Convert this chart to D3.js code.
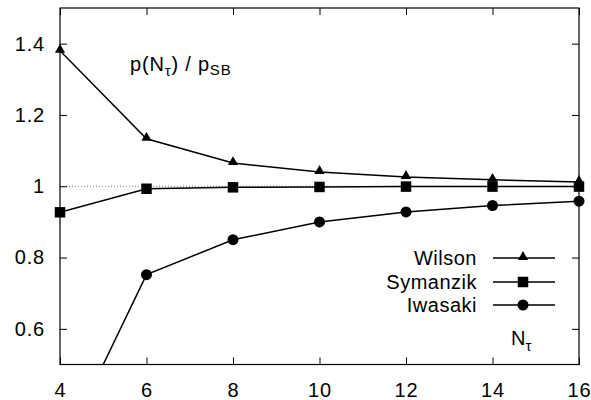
<!DOCTYPE html>
<html>
<head>
<meta charset="utf-8">
<script src="https://cdn.jsdelivr.net/npm/d3@7"></script>
<style>
  body { margin: 0; background: #fff; }
  text { font-family: "Liberation Sans", Arial, sans-serif; fill: #000; }
</style>
</head>
<body>
<svg id="chart" width="591" height="400"></svg>
<script>
// N_tau values on the x axis
const ntau = [4, 6, 8, 10, 12, 14, 16];
// pressure ratio p(N_tau)/p_SB for each action
const wilson   = [1.38, 1.133, 1.065, 1.040, 1.026, 1.018, 1.012];
const symanzik = [0.927, 0.993, 0.997, 0.998, 0.999, 0.999, 0.999];
const iwasaki  = [0.248, 0.752, 0.850, 0.900, 0.928, 0.946, 0.958];
const xTicks = [4, 6, 8, 10, 12, 14, 16];
const yTicks = [0.6, 0.8, 1.0, 1.2, 1.4];
const yTickLabels = ["0.6", "0.8", "1", "1.2", "1.4"];

const svg = d3.select("#chart");
const L = 60, R = 579, T = 8, B = 364.5;
const FONT = '"Liberation Sans", Arial, sans-serif';

const x = d3.scaleLinear().domain([4, 16]).range([L, R]);
const y = d3.scaleLinear().domain([0.5, 1.5]).range([B, T]);

svg.append("defs").append("clipPath").attr("id", "plotclip")
  .append("rect").attr("x", L).attr("y", T).attr("width", R - L).attr("height", B - T);

// reference line at 1
svg.append("line")
  .attr("x1", L).attr("x2", R).attr("y1", y(1)).attr("y2", y(1))
  .attr("stroke", "#777").attr("stroke-width", 1).attr("stroke-dasharray", "1,2");

// frame
svg.append("rect").attr("x", L).attr("y", T).attr("width", R - L).attr("height", B - T)
  .attr("fill", "none").attr("stroke", "#000").attr("stroke-width", 1.2);

const tl = 7;
// ticks point inward and are mirrored on top and right
const bottomAxis = svg.append("g").attr("transform", `translate(0,${B})`)
  .call(d3.axisBottom(x).tickValues(xTicks).tickSize(-tl).tickFormat(d3.format("d")));
const topAxis = svg.append("g").attr("transform", `translate(0,${T})`)
  .call(d3.axisTop(x).tickValues(xTicks).tickSize(-tl).tickFormat(""));
const leftAxis = svg.append("g").attr("transform", `translate(${L},0)`)
  .call(d3.axisLeft(y).tickValues(yTicks).tickSize(-tl).tickPadding(15)
    .tickFormat((d, i) => yTickLabels[i]));
const rightAxis = svg.append("g").attr("transform", `translate(${R},0)`)
  .call(d3.axisRight(y).tickValues(yTicks).tickSize(-tl).tickFormat(""));

[bottomAxis, topAxis, leftAxis, rightAxis].forEach(g => {
  g.select(".domain").remove();
  g.selectAll(".tick line").attr("stroke", "#000").attr("stroke-width", 1);
  g.selectAll("text").style("font-size", "20px").style("letter-spacing", "0.8px")
    .attr("fill", "#000").style("font-family", FONT);
});
bottomAxis.selectAll("text").attr("y", 32.5).attr("dy", null);

const line = d3.line().x((d, i) => x(ntau[i])).y(d => y(d));
const plot = svg.append("g").attr("clip-path", "url(#plotclip)");

const series = [
  { name: "Wilson", values: wilson, shape: d3.symbolTriangle, size: 45, dy: -1 },
  { name: "Symanzik", values: symanzik, shape: d3.symbolSquare, size: 110, dy: 0 },
  { name: "Iwasaki", values: iwasaki, shape: d3.symbolCircle, size: 95, dy: 0 }
];

series.forEach(s => {
  plot.append("path").datum(s.values).attr("d", line)
    .attr("fill", "none").attr("stroke", "#000").attr("stroke-width", 1.5);
  // markers only for points inside the plotted range
  const pts = s.values.map((v, i) => ({ n: ntau[i], v })).filter(p => p.v >= 0.5);
  svg.selectAll(null).data(pts).enter().append("path")
    .attr("d", d3.symbol().type(s.shape).size(s.size))
    .attr("transform", p => `translate(${x(p.n)},${y(p.v) + s.dy})`)
    .attr("fill", "#000");
});

// legend
const legRows = [258, 282, 305];
series.forEach((s, i) => {
  const ly = legRows[i];
  svg.append("text").attr("x", 477).attr("y", ly).attr("dy", "0.35em")
    .attr("text-anchor", "end").style("font-size", "20px").style("letter-spacing", "0.5px")
    .text(s.name);
  svg.append("line").attr("x1", 493).attr("x2", 555).attr("y1", ly).attr("y2", ly)
    .attr("stroke", "#000").attr("stroke-width", 1.5);
  svg.append("path").attr("d", d3.symbol().type(s.shape).size(s.size)())
    .attr("transform", `translate(523,${ly + s.dy})`)
    .attr("fill", "#000");
});

// label p(N_tau) / p_SB
const title = svg.append("text").attr("x", 130).attr("y", 71)
  .style("font-size", "20px").style("letter-spacing", "0.8px");
title.append("tspan").text("p(N");
title.append("tspan").attr("dy", 5).style("font-size", "15px").text("τ");
title.append("tspan").attr("dy", -5).text(") / p");
title.append("tspan").attr("dy", 4).style("font-size", "15px").text("SB");

// x axis label N_tau
const xl = svg.append("text").attr("x", 511).attr("y", 345).style("font-size", "20px");
xl.append("tspan").text("N");
xl.append("tspan").attr("dy", 6).style("font-size", "15px").text("τ");
</script>
</body>
</html>
